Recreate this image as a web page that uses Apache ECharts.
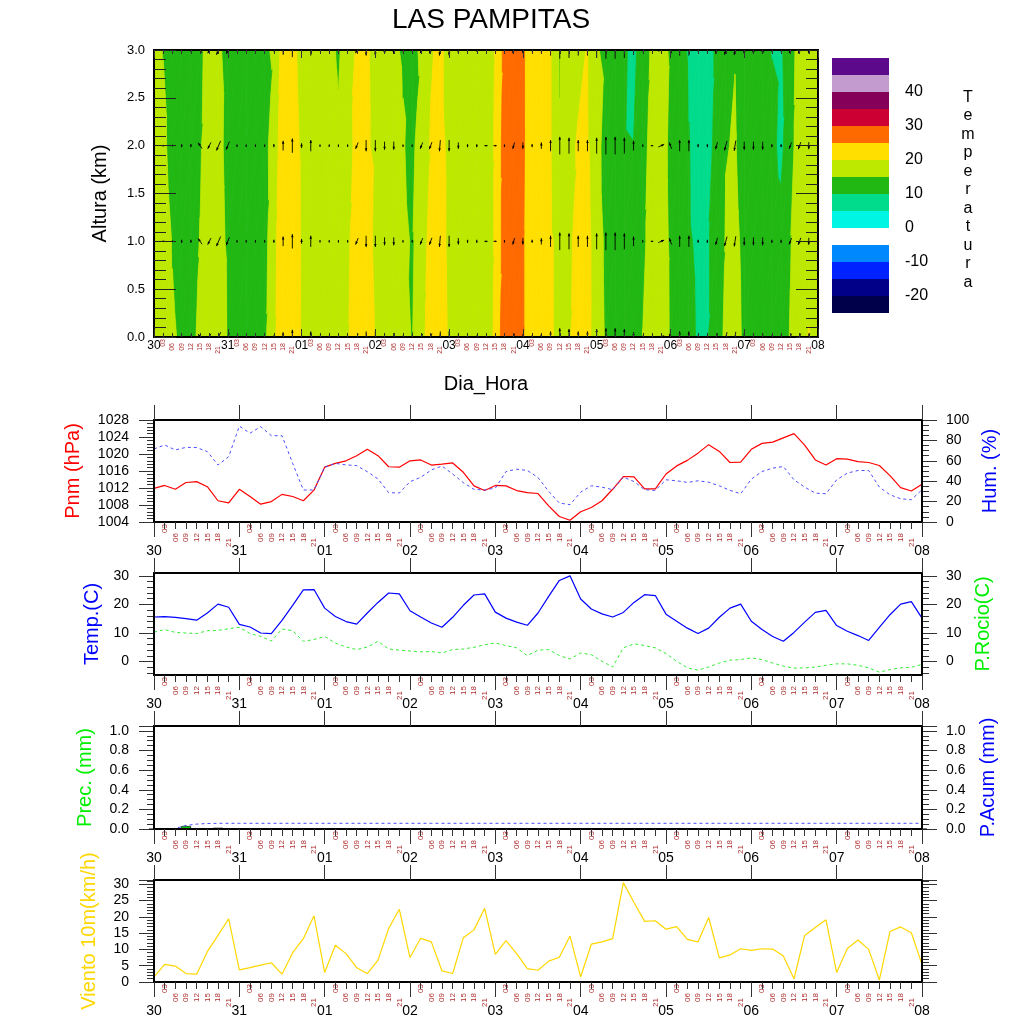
<!DOCTYPE html>
<html>
<head>
<meta charset="utf-8">
<title>LAS PAMPITAS</title>
<script src="https://cdn.jsdelivr.net/npm/echarts@6/dist/echarts.min.js"></script>
<style>
  html, body { margin: 0; padding: 0; background: #fff; }
  #chart { width: 1024px; height: 1024px; }
</style>
</head>
<body>
<div id="chart"></div>
<script>
// time axis: 3-hourly steps from day 30 00h to day 08 00h (73 points)
const dayLabels = ['30', '31', '01', '02', '03', '04', '05', '06', '07', '08'];
const hourLabels = ['', '03', '06', '09', '12', '15', '18', '21'];

// vertical cross-section levels (km)
const heights = [0, 1, 2, 3];

// temperature at each level (C)
const t0km = [17, 16.5, 15.5, 14.4, 14.5, 15.4, 16, 16.5, 14.9, 13.5, 13, 13.5, 13.9, 19, 23.3, 23, 19.95, 18, 17.5, 18, 19, 19.8, 22.8, 22, 19.9, 18, 17, 15.3, 14.95, 17.5, 23.75, 22, 19.5, 18.5, 18, 18.5, 19.5, 20.16, 29, 29.5, 25.4, 21.8, 21, 20.6, 18.6, 19.6, 21.6, 20.5, 19.2, 14.1, 13, 12.5, 13, 15.1, 17, 16.5, 14.76, 12.5, 10.5, 9.8, 9.9, 11, 16.8, 16.5, 14.3, 13, 12.5, 13, 13.5, 15.2, 18, 20.2, 17];
const t1km = [17.5, 17, 14.8, 13.5, 14, 15.1, 16.5, 15.7, 14.7, 13.5, 13, 13.5, 13.3, 18.5, 23.5, 22.5, 19.7, 18, 17.5, 18, 19, 19.6, 21.2, 21.5, 19.3, 17.5, 16.5, 15.5, 14.8, 15.8, 22.8, 21.5, 19.2, 18.5, 18, 18.5, 19.5, 20.1, 27.5, 29, 25.4, 21.8, 21, 20.6, 18.6, 19.4, 21, 20.5, 19.2, 13.4, 12.5, 12, 12.5, 14, 17, 16, 14.7, 12, 10.2, 9.7, 9.9, 10.3, 15.5, 16, 14, 12.5, 12, 12, 11.5, 14.8, 16.8, 18.5, 16.5];
const t2km = [18, 16, 13.3, 12.5, 13, 14.7, 16.5, 15.5, 14.5, 13, 12.5, 13, 13.5, 17.25, 23, 21.5, 19.5, 18, 17.5, 17, 15.7, 19.2, 20.6, 20.3, 19.6, 17.5, 16, 15.2, 14.2, 16.9, 20.4, 21, 19.2, 18.5, 18, 18.5, 19.5, 20.1, 27.5, 29, 25.7, 21.8, 21, 20.3, 15.1, 19.5, 20.2, 20.3, 18.8, 10.7, 11, 10.2, 10.05, 13, 17, 16, 14.5, 12, 10.1, 9, 9.5, 10.4, 14.8, 15.3, 13, 12, 11.5, 11, 9, 13, 18, 18.5, 17];
const t3km = [16, 14.9, 13, 12, 12.5, 14.5, 16, 15.2, 14.6, 13, 12.5, 13, 14.5, 15.4, 22.4, 21, 18.9, 17.5, 17, 16, 14.5, 17, 20.75, 20.2, 19.6, 17, 15.3, 14.8, 14.5, 15.3, 19.5, 21, 18.3, 18, 17.5, 18, 19.5, 20.05, 26.5, 28.5, 25.7, 21.8, 21, 20.3, 14.9, 19.5, 19.5, 20.1, 15.6, 13.5, 12, 10.5, 9, 12, 15.9, 15.5, 14.8, 10.8, 9.7, 8.5, 9.5, 10.2, 11.5, 14.9, 13, 12, 11.5, 9.9, 9.5, 12.3, 17.7, 18, 16];

// wind vectors on the cross-section (u east, v north)
const windU = [0, -1, 0, 0, 0, -1.2, -1, -1.3, -1, 0, 0, 0, 0, 0, 0, 0, 0, 0, 0, 0, 0, 0, -0.8, 0, 0, 0, 0, 0, 0, -0.8, -0.8, -0.3, 0, 0, 0, 0, -1, -1, 0, -0.6, 0, 0, 0, 0, 0, 0, 0, 0, 0, 0, 0, 0, 0, 0, -0.8, 1.8, -0.8, 0, 0, 0, 0, -0.6, -0.8, -0.5, 0, 0, 0, 0, 0, -0.8, -0.8, 0, 0];
const windV = [0, 0, 0.6, -1, 1, 1.8, -2, -3, -2.5, -0.8, -0.8, -0.8, -0.8, 1, 3, 4.5, 1.5, 3.5, 0.8, 0.8, 0.8, 0.8, -2, -3.5, -3.5, -2.5, -2.5, -0.8, -0.8, -2, -2.2, -3.5, -3.5, -2, -1, -1, 0, 0, -0.8, -2, -2, 1, 2, 3.5, 5.5, 5, 3.5, 3.5, 5, 5.5, 5.5, 5, 3, 0.8, 0, 0.8, 2, 3.5, 3.5, 1, -1, -2.2, -3, -3.2, -2.5, -2.5, -2.5, -1, -1, -2, -2.2, -2.2, 0];

// colour levels of the temperature field
const tempLevels = [-25, -20, -15, -10, -5, 0, 5, 10, 15, 20, 25, 30, 35, 40, 45, 50];
const tempColors = ['#00004a', '#000088', '#0022ff', '#0088ff', '#ffffff', '#00f5e2', '#00dc8c', '#22b814', '#bde800', '#ffdf00', '#ff6a00', '#cc0033', '#850058', '#c39bcf', '#5c0a8b'];

// surface series
const pnm = [1011.9, 1012.6, 1011.7, 1013.3, 1013.5, 1012.3, 1009.0, 1008.5, 1011.7, 1010.0, 1008.2, 1008.8, 1010.5, 1010.0, 1009.0, 1011.5, 1016.9, 1017.8, 1018.4, 1019.6, 1021.1, 1019.6, 1017.0, 1016.9, 1018.4, 1018.6, 1017.4, 1017.6, 1017.9, 1015.7, 1012.5, 1011.4, 1012.6, 1012.5, 1011.4, 1010.9, 1010.7, 1007.8, 1005.3, 1004.4, 1006.4, 1007.4, 1009.0, 1011.7, 1014.7, 1014.6, 1011.8, 1011.8, 1015.3, 1017.2, 1018.5, 1020.2, 1022.2, 1020.6, 1018.0, 1018.1, 1021.1, 1022.5, 1022.8, 1023.8, 1024.8, 1022.1, 1018.6, 1017.4, 1018.9, 1018.8, 1018.2, 1018.0, 1017.3, 1014.9, 1012.1, 1011.3, 1012.9];
const hum = [71.6, 75.5, 70.6, 73.2, 73, 69, 55.9, 64, 94, 87, 93.5, 84.6, 84.6, 57.5, 31.4, 31.4, 53.6, 57.5, 56, 55.3, 49.3, 42.2, 28.8, 28.4, 39.5, 43.8, 51, 54.9, 47, 38.6, 32, 31.4, 33.2, 49.5, 51.8, 50.5, 43.6, 30, 18.6, 17, 29.3, 35.5, 34.2, 31.6, 44, 39.7, 31.6, 31, 41.4, 40.4, 38.8, 40.4, 39, 35.5, 31, 27.7, 42, 49.5, 52.8, 54.4, 41.4, 34.2, 28.3, 27.7, 41.4, 47.9, 50.5, 50.5, 34.2, 26.7, 22.8, 21.8, 31.6];
const temp = [15.6, 15.7, 15.5, 15, 14.5, 17, 20.1, 19, 13, 12.1, 10, 9.8, 14.4, 19.7, 25.1, 25.2, 18.7, 15.8, 14, 13.1, 17, 20.7, 24, 23.7, 17.8, 15.6, 13.5, 12, 15.5, 19.7, 23.3, 23.7, 17.3, 15.2, 13.8, 12.7, 17, 22.8, 28.4, 30, 21.9, 18.4, 16.7, 15.6, 17.2, 20.7, 23.4, 23.1, 16.6, 14.1, 11.7, 9.8, 11.7, 15.5, 18.7, 20.1, 14.1, 11.2, 8.8, 7.1, 10.2, 13.8, 17.2, 17.9, 12.6, 10.6, 9.1, 7.4, 12, 16.4, 20.1, 21, 15.2];
const dew = [10.3, 11.2, 10.2, 10, 9.8, 10.8, 10.9, 11.5, 12, 9.8, 8.8, 7.2, 11.4, 10.8, 7.1, 7.7, 8.8, 6.5, 5.1, 4.2, 5.1, 7.1, 4.4, 4, 3.7, 3.4, 3.5, 3, 4.2, 4.4, 5, 5.9, 6.5, 5.6, 4.8, 2.1, 4, 4.2, 2.1, 0.9, 3, 2.4, 0.1, -1.9, 4.8, 6.2, 5.6, 4.8, 2.8, 0.1, -2.2, -3, -1.9, -0.5, 0.5, 0.7, 1.3, 0.7, -0.5, -1.6, -2.3, -2.2, -1.9, -1.3, -0.8, -0.8, -1.3, -2.2, -3.7, -2.8, -2.2, -2, -1];
const prec = [0, 0, 0.006, 0.03, 0, 0.005, 0.013, 0, 0, 0, 0, 0, 0, 0, 0, 0, 0, 0, 0, 0, 0, 0, 0, 0, 0, 0, 0, 0, 0, 0, 0, 0, 0, 0, 0, 0, 0, 0, 0, 0, 0, 0, 0, 0, 0, 0, 0, 0, 0, 0, 0, 0, 0, 0, 0, 0, 0, 0, 0, 0, 0, 0, 0, 0, 0, 0, 0, 0, 0, 0, 0, 0, 0];
const precAcum = [0, 0, 0.006, 0.036, 0.05, 0.056, 0.058, 0.058, 0.058, 0.058, 0.058, 0.058, 0.058, 0.058, 0.058, 0.058, 0.058, 0.058, 0.058, 0.058, 0.058, 0.058, 0.058, 0.058, 0.058, 0.058, 0.058, 0.058, 0.058, 0.058, 0.058, 0.058, 0.058, 0.058, 0.058, 0.058, 0.058, 0.058, 0.058, 0.058, 0.058, 0.058, 0.058, 0.058, 0.058, 0.058, 0.058, 0.058, 0.058, 0.058, 0.058, 0.058, 0.058, 0.058, 0.058, 0.058, 0.058, 0.058, 0.058, 0.058, 0.058, 0.058, 0.058, 0.058, 0.058, 0.058, 0.058, 0.058, 0.058, 0.058, 0.058, 0.058, 0.058];
const wind10 = [1.6, 5.4, 4.9, 2.6, 2.4, 9.3, 14.3, 19.4, 3.7, 4.4, 5.2, 5.9, 2.4, 9, 13.3, 20.3, 2.9, 11.3, 8.7, 4.4, 2.6, 6.7, 16.4, 22.3, 7.5, 13.4, 12.3, 3.4, 2.6, 13.6, 16, 22.6, 8.5, 12.7, 8.7, 4.1, 3.6, 6.4, 7.6, 14.1, 1.6, 11.6, 12.3, 13.3, 30.5, 24.4, 18.6, 18.8, 16.2, 17, 13.1, 12.3, 19.8, 7.4, 8.3, 10.2, 9.7, 10.2, 10.1, 8, 1, 14.3, 16.7, 19.1, 2.9, 10.3, 12.9, 10, 0.6, 15.5, 16.9, 15.1, 5.4];

// tick positions for the temperature panel
const tempMajor = [0, 10, 20, 30];
const tempMinor = [-4, -2, 2, 4, 6, 8, 12, 14, 16, 18, 22, 24, 26, 28];

const FONT = 'Liberation Sans, Arial, Helvetica, sans-serif';
const TICK = '#333';
const tempField = [t0km, t1km, t2km, t3km];
const pairs = arr => arr.map((v, i) => [i, v]);
const NO_LINE = { show: false, onZero: false };

// clip a polygon (points [x, y, t]) against t >= thr or t <= thr
function clipPoly(poly, thr, above) {
  const out = [];
  for (let n = 0; n < poly.length; n++) {
    const a = poly[n], b = poly[(n + 1) % poly.length];
    const ina = above ? a[2] >= thr : a[2] <= thr;
    const inb = above ? b[2] >= thr : b[2] <= thr;
    if (ina) out.push(a);
    if (ina !== inb) {
      const f = (thr - a[2]) / (b[2] - a[2]);
      out.push([a[0] + f * (b[0] - a[0]), a[1] + f * (b[1] - a[1]), thr]);
    }
  }
  return out;
}

const cells = [];
for (let k = 0; k < heights.length - 1; k++) {
  for (let i = 0; i < t0km.length - 1; i++) cells.push([i, heights[k], k]);
}
const vectors = [];
heights.forEach(h => windU.forEach((u, i) => vectors.push([i, h, u, windV[i]])));
const cbBins = tempColors.map((c, b) => [tempLevels[b], tempLevels[b + 1], b]);

function renderCell(params, api) {
  const i = api.value(0), k = api.value(2);
  const lo = heights[k], hi = heights[k + 1];
  const A = [i, lo, tempField[k][i]], B = [i + 1, lo, tempField[k][i + 1]];
  const C = [i + 1, hi, tempField[k + 1][i + 1]], D = [i, hi, tempField[k + 1][i]];
  const children = [];
  [[A, B, C], [A, C, D]].forEach(tri => {
    for (let b = 0; b < tempColors.length; b++) {
      let poly = clipPoly(tri, tempLevels[b], true);
      if (poly.length >= 3) poly = clipPoly(poly, tempLevels[b + 1], false);
      if (poly.length < 3) continue;
      children.push({
        type: 'polygon',
        shape: { points: poly.map(p => api.coord([p[0], p[1]])) },
        style: { fill: tempColors[b], stroke: tempColors[b], lineWidth: 0.8 }
      });
    }
  });
  return { type: 'group', children };
}

function renderVector(params, api) {
  const c = api.coord([api.value(0), api.value(1)]);
  const u = api.value(2), v = api.value(3);
  const mag = Math.hypot(u, v);
  if (!mag) return;
  const len = mag * 3.2;
  const dx = u / mag, dy = -v / mag;
  const hx = c[0] + dx * len / 2, hy = c[1] + dy * len / 2;
  const tx = c[0] - dx * len / 2, ty = c[1] - dy * len / 2;
  const hs = Math.min(3, len * 0.7), w = hs * 0.42;
  return {
    type: 'group',
    children: [
      { type: 'line', shape: { x1: tx, y1: ty, x2: hx, y2: hy }, style: { stroke: '#000', lineWidth: 0.9 } },
      { type: 'polygon', shape: { points: [[hx, hy], [hx - dx * hs - dy * w, hy - dy * hs + dx * w], [hx - dx * hs + dy * w, hy - dy * hs - dx * w]] }, style: { fill: '#000' } }
    ]
  };
}

function renderBin(params, api) {
  const p0 = api.coord([0, api.value(1)]);
  const p1 = api.coord([1, api.value(0)]);
  return { type: 'rect', shape: { x: p0[0], y: p0[1], width: p1[0] - p0[0], height: p1[1] - p0[1] }, style: { fill: tempColors[api.value(2)] } };
}

function hourRich(pads, size) {
  const r = {};
  hourLabels.forEach((h, k) => { if (h) r['h' + k] = { padding: [0, pads[k], 0, 0], fontSize: size, color: '#b03030', fontFamily: FONT }; });
  return r;
}

function timeAxes(g) {
  const top = g === 0;
  return [
    {
      type: 'value', gridIndex: g, min: 0, max: 72, interval: 8, position: 'bottom', z: 10,
      axisLine: NO_LINE, splitLine: { show: false },
      axisTick: { inside: top, length: top ? 8 : 15, lineStyle: { color: TICK } },
      minorTick: { show: true, splitNumber: 8, length: top ? 4 : 7, lineStyle: { color: TICK } },
      axisLabel: { margin: top ? 3 : 22, fontSize: top ? 12 : 14, color: '#000', showMinLabel: true, showMaxLabel: true, formatter: v => dayLabels[Math.round(v / 8)] },
      name: top ? 'Dia_Hora' : '', nameLocation: 'middle', nameGap: 37,
      nameTextStyle: { fontSize: 20, color: '#000' }
    },
    {
      type: 'value', gridIndex: g, min: 0, max: 72, interval: 1, position: 'bottom',
      axisLine: NO_LINE, axisTick: { show: false }, splitLine: { show: false },
      axisLabel: {
        rotate: 90, margin: 2, showMinLabel: true, showMaxLabel: true,
        formatter: v => { const k = Math.round(v) % 8; return k ? '{h' + k + '|' + hourLabels[k] + '}' : ''; },
        rich: top ? hourRich([0, 0, 4, 4, 4, 4, 4, 7], 7) : hourRich([0, 0, 9, 9, 9, 9, 9, 14], 8)
      }
    },
    {
      type: 'value', gridIndex: g, min: 0, max: 72, interval: 8, position: 'top', z: 10,
      axisLine: NO_LINE, axisLabel: { show: false }, splitLine: { show: false },
      axisTick: { inside: top, length: top ? 8 : 15, lineStyle: { color: TICK } },
      minorTick: { show: top, splitNumber: 8, length: 4, lineStyle: { color: TICK } }
    }
  ];
}

function valueAxis(g, pos, opts) {
  return Object.assign({
    type: 'value', gridIndex: g, position: pos,
    axisLine: NO_LINE, splitLine: { show: false },
    axisTick: { length: 15, lineStyle: { color: TICK } },
    axisLabel: { margin: 25, fontSize: 14, color: '#000', formatter: v => String(v) },
    nameLocation: 'middle', nameRotate: 90
  }, opts);
}

const xAxes = [];
for (let g = 0; g < 5; g++) xAxes.push(...timeAxes(g));
xAxes.push({ type: 'value', gridIndex: 5, min: 0, max: 1, show: false, axisLine: NO_LINE });

const yAxes = [
  // 0,1 cross-section
  valueAxis(0, 'left', {
    min: 0, max: 3, interval: 0.5, z: 10,
    axisTick: { inside: true, length: 22, lineStyle: { color: '#222' } },
    minorTick: { show: true, splitNumber: 5, length: 12, lineStyle: { color: '#222' } },
    axisLabel: { margin: 9, fontSize: 13, color: '#000', formatter: v => v.toFixed(1) },
    name: 'Altura (km)', nameGap: 44, nameTextStyle: { fontSize: 20, color: '#000' }
  }),
  valueAxis(0, 'right', {
    min: 0, max: 3, interval: 0.5, z: 10,
    axisTick: { inside: true, length: 22, lineStyle: { color: '#222' } },
    minorTick: { show: true, splitNumber: 5, length: 12, lineStyle: { color: '#222' } },
    axisLabel: { show: false }
  }),
  // 2,3 pressure / humidity
  valueAxis(1, 'left', {
    min: 1004, max: 1028, interval: 4,
    minorTick: { show: true, splitNumber: 5, length: 7, lineStyle: { color: TICK } },
    name: 'Pnm (hPa)', nameGap: 71, nameTextStyle: { fontSize: 20, color: '#ff0000' }
  }),
  valueAxis(1, 'right', {
    min: 0, max: 100, interval: 20,
    minorTick: { show: true, splitNumber: 4, length: 7, lineStyle: { color: TICK } },
    axisLabel: { margin: 24, fontSize: 14, color: '#000', formatter: v => String(v) },
    name: 'Hum. (%)', nameGap: 58, nameTextStyle: { fontSize: 20, color: '#0000ff' }
  }),
  // 4-7 temperature / dew point
  valueAxis(2, 'left', {
    min: -4.7, max: 31,
    axisTick: { length: 15, lineStyle: { color: TICK }, customValues: tempMajor },
    axisLabel: { margin: 25, fontSize: 14, color: '#000', customValues: tempMajor, formatter: v => String(v) },
    name: 'Temp.(C)', nameGap: 52, nameTextStyle: { fontSize: 20, color: '#0000ff' }
  }),
  valueAxis(2, 'left', {
    min: -4.7, max: 31,
    axisTick: { length: 7, lineStyle: { color: TICK }, customValues: tempMinor },
    axisLabel: { show: false }
  }),
  valueAxis(2, 'right', {
    min: -4.7, max: 31,
    axisTick: { length: 15, lineStyle: { color: TICK }, customValues: tempMajor },
    axisLabel: { margin: 24, fontSize: 14, color: '#000', customValues: tempMajor, formatter: v => String(v) },
    name: 'P.Rocio(C)', nameGap: 51, nameTextStyle: { fontSize: 20, color: '#00ee00' }
  }),
  valueAxis(2, 'right', {
    min: -4.7, max: 31,
    axisTick: { length: 7, lineStyle: { color: TICK }, customValues: tempMinor },
    axisLabel: { show: false }
  }),
  // 8,9 precipitation
  valueAxis(3, 'left', {
    min: 0, max: 1.05, interval: 0.2,
    minorTick: { show: true, splitNumber: 4, length: 7, lineStyle: { color: TICK } },
    axisLabel: { margin: 25, fontSize: 14, color: '#000', showMaxLabel: false, formatter: v => v.toFixed(1) },
    name: 'Prec. (mm)', nameGap: 59, nameTextStyle: { fontSize: 20, color: '#00ee00' }
  }),
  valueAxis(3, 'right', {
    min: 0, max: 1.05, interval: 0.2,
    minorTick: { show: true, splitNumber: 4, length: 7, lineStyle: { color: TICK } },
    axisLabel: { margin: 24, fontSize: 14, color: '#000', showMaxLabel: false, formatter: v => v.toFixed(1) },
    name: 'P.Acum (mm)', nameGap: 56, nameTextStyle: { fontSize: 20, color: '#0000ff' }
  }),
  // 10,11 wind
  valueAxis(4, 'left', {
    min: 0, max: 31.3, interval: 5,
    minorTick: { show: true, splitNumber: 5, length: 7, lineStyle: { color: TICK } },
    axisLabel: { margin: 25, fontSize: 14, color: '#000', showMaxLabel: false, formatter: v => String(v) },
    name: 'Viento 10m(km/h)', nameGap: 55, nameTextStyle: { fontSize: 20, color: '#ffd700' }
  }),
  valueAxis(4, 'right', {
    min: 0, max: 31.3, interval: 5,
    minorTick: { show: true, splitNumber: 5, length: 7, lineStyle: { color: TICK } },
    axisLabel: { show: false }
  }),
  // 12 colour bar
  {
    type: 'value', gridIndex: 5, position: 'right', min: -25, max: 50, interval: 5,
    axisLine: NO_LINE, axisTick: { show: false }, splitLine: { show: false },
    axisLabel: { margin: 16, fontSize: 16, color: '#000', formatter: v => (v % 10 === 0 && v > -25 && v < 50) ? String(v) : '' }
  }
];

const frame = { show: true, borderColor: '#000', borderWidth: 2, backgroundColor: 'transparent', z: 10 };

const option = {
  animation: false,
  backgroundColor: '#fff',
  textStyle: { fontFamily: FONT },
  title: {
    text: 'LAS PAMPITAS', left: 486, top: 1, textAlign: 'center',
    textStyle: { fontSize: 28, fontWeight: 'normal', color: '#000', fontFamily: FONT }
  },
  grid: [
    Object.assign({ left: 154, top: 50, width: 664, height: 287 }, frame),
    Object.assign({ left: 154, top: 420, width: 768, height: 102 }, frame),
    Object.assign({ left: 154, top: 573, width: 768, height: 102 }, frame),
    Object.assign({ left: 154, top: 726, width: 768, height: 103 }, frame),
    Object.assign({ left: 154, top: 880, width: 768, height: 102 }, frame),
    { left: 832, top: 58, width: 57, height: 255, show: false }
  ],
  xAxis: xAxes,
  yAxis: yAxes,
  graphic: [{
    type: 'text', x: 968, y: 88,
    style: { text: 'Temperatura'.split('').join('\n'), fontSize: 16, lineHeight: 18.5, fontFamily: FONT, fill: '#000', align: 'center', verticalAlign: 'top' }
  }],
  series: [
    { type: 'custom', name: 'temperatura', xAxisIndex: 0, yAxisIndex: 0, data: cells, encode: { x: 0, y: 1 }, renderItem: renderCell, clip: true, silent: true, z: 1 },
    { type: 'custom', name: 'viento', xAxisIndex: 0, yAxisIndex: 0, data: vectors, encode: { x: 0, y: 1 }, renderItem: renderVector, clip: true, silent: true, z: 3 },
    { type: 'line', xAxisIndex: 3, yAxisIndex: 2, data: pairs(pnm), symbol: 'none', lineStyle: { color: '#ff0000', width: 1.2 } },
    { type: 'line', xAxisIndex: 3, yAxisIndex: 3, data: pairs(hum), symbol: 'none', lineStyle: { color: '#4d4dff', width: 1, type: [3, 3] } },
    { type: 'line', xAxisIndex: 6, yAxisIndex: 4, data: pairs(temp), symbol: 'none', lineStyle: { color: '#0000ff', width: 1.2 } },
    { type: 'line', xAxisIndex: 6, yAxisIndex: 6, data: pairs(dew), symbol: 'none', lineStyle: { color: '#33ee33', width: 1, type: [3, 3] } },
    { type: 'bar', xAxisIndex: 9, yAxisIndex: 8, data: pairs(prec), barWidth: 10, itemStyle: { color: '#00cc00', borderColor: '#000', borderWidth: 0.6 } },
    { type: 'line', xAxisIndex: 9, yAxisIndex: 9, data: pairs(precAcum), symbol: 'none', lineStyle: { color: '#4d4dff', width: 1, type: [3, 3] } },
    { type: 'line', xAxisIndex: 12, yAxisIndex: 10, data: pairs(wind10), symbol: 'none', lineStyle: { color: '#ffd700', width: 1.2 } },
    { type: 'custom', xAxisIndex: 15, yAxisIndex: 12, data: cbBins, encode: { y: [0, 1] }, renderItem: renderBin, silent: true }
  ]
};

const chart = echarts.init(document.getElementById('chart'));
chart.setOption(option);
</script>
</body>
</html>
